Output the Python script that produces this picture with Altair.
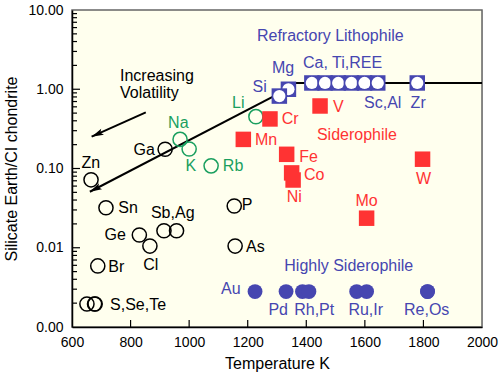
import altair as alt
import pandas as pd

# ---------------- data ----------------
vol_names = ["Zn", "Ga", "Sn", "Ge", "Cl", "Sb", "Ag", "Br", "S", "Se", "Te", "P", "As"]
vol_T = [665, 918, 716, 830, 866, 914, 957, 688, 651, 677, 679, 1154, 1157]
vol_v = [0.072, 0.175, 0.032, 0.0145, 0.0105, 0.0164, 0.0164, 0.0059, 0.00195, 0.00195, 0.00195, 0.0336, 0.0105]

mod_names = ["Na", "K", "Rb", "Li"]
mod_T = [969, 1000, 1075, 1228]
mod_v = [0.233, 0.176, 0.108, 0.451]

lith_names = ["Mg", "Si", "Ca", "Ti", "REE", "Be", "Sc", "Al", "Zr"]
lith_T = [1339, 1308, 1419, 1464, 1509, 1554, 1599, 1644, 1779]
lith_v = [1.0, 0.82, 1.2, 1.2, 1.2, 1.2, 1.2, 1.2, 1.2]

sid_names = ["Mn", "Cr", "V", "Fe", "Co", "Ni", "Mo", "W"]
sid_T = [1185, 1276, 1447, 1333, 1350, 1355, 1606, 1797]
sid_v = [0.233, 0.422, 0.615, 0.151, 0.088, 0.0716, 0.0236, 0.131]

hse_names = ["Au", "Pd", "Rh", "Pt", "Ru", "Ir", "Re", "Os"]
hse_T = [1225, 1331, 1387, 1409, 1572, 1606, 1814, 1814]
hse_v = [0.0028] * 8

trend_seg = ["a", "a", "b", "b"]
trend_T = [661, 1339, 1339, 2000]
trend_v = [0.0509, 1.02, 1.2, 1.2]

volat_T = [852, 667]
volat_v = [0.512, 0.252]

lab_text = ["Zn", "Ga", "Sn", "Ge", "Cl", "Sb,Ag", "Br", "S,Se,Te", "P", "As", "Increasing", "Volatility",
            "Na", "K", "Rb", "Li",
            "Refractory Lithophile", "Mg", "Si", "Ca, Ti,REE", "Sc,Al", "Zr",
            "Highly Siderophile", "Au", "Pd", "Rh,Pt", "Ru,Ir", "Re,Os",
            "Cr", "Mn", "V", "Siderophile", "Fe", "Co", "Ni", "W", "Mo"]
lab_T = [664, 883, 758, 784, 869, 944, 724, 730, 1180, 1194, 764, 764,
         963, 1006, 1115, 1168,
         1482, 1321, 1265, 1524, 1661, 1782,
         1545, 1176, 1304, 1427, 1603, 1811,
         1316, 1225, 1509, 1573, 1376, 1392, 1359, 1800, 1606]
lab_v = [0.1163, 0.171, 0.0315, 0.0145, 0.00606, 0.0277, 0.00567, 0.0019, 0.0346, 0.0103, 1.47, 0.905,
         0.378, 0.1085, 0.1085, 0.665,
         4.70, 1.84, 1.06, 2.125, 0.665, 0.665,
         0.00588, 0.00299, 0.00164, 0.00164, 0.00164, 0.00164,
         0.421, 0.229, 0.592, 0.265, 0.141, 0.0828, 0.0441, 0.0731, 0.0393]
lab_grp = ["vol"] * 12 + ["mod"] * 4 + ["lith"] * 6 + ["hse"] * 6 + ["sid"] * 9
lab_align = ["center", "right", "left", "right", "center", "center", "left", "left", "left", "left", "left", "left",
             "center", "center", "left", "center",
             "center", "center", "right", "center", "center", "center",
             "center", "right", "center", "center", "center", "center",
             "left", "left", "center", "center", "left", "left", "center", "center", "center"]

x_ticks = [600, 800, 1000, 1200, 1400, 1600, 1800, 2000]
y_major = [0.001, 0.01, 0.1, 1, 10]
y_minor = [k * 10 ** e for e in range(-3, 1) for k in range(2, 10)]

# ---------------- style ----------------
W, H = 410, 317
BLACK = "#000000"
GREEN = "#1a9f5f"
BLUE = "#4646b0"
RED = "#ff3333"
FONT = "Liberation Sans"
ARROW = "M0,0 L0.55,2 L0,1.6 L-0.55,2 Z"

xs = alt.Scale(domain=[600, 2000], nice=False, zero=False)
ys = alt.Scale(type="log", domain=[0.001, 10], nice=False)

def X(axis=alt.Undefined):
    return alt.X("T:Q", scale=xs, axis=axis)

def Y(axis=alt.Undefined):
    return alt.Y("v:Q", scale=ys, axis=axis)

vol_df = pd.DataFrame({"name": vol_names, "T": vol_T, "v": vol_v})
mod_df = pd.DataFrame({"name": mod_names, "T": mod_T, "v": mod_v})
sid_df = pd.DataFrame({"name": sid_names, "T": sid_T, "v": sid_v})
hse_df = pd.DataFrame({"name": hse_names, "T": hse_T, "v": hse_v})
trend_df = pd.DataFrame({"seg": trend_seg, "T": trend_T, "v": trend_v})
volat_df = pd.DataFrame({"T": volat_T, "v": volat_v})
lab_df = pd.DataFrame({"text": lab_text, "T": lab_T, "v": lab_v, "grp": lab_grp, "align": lab_align})

rows = []
for i, (n, t, v) in enumerate(zip(lith_names, lith_T, lith_v)):
    rows.append({"name": n, "T": t, "v": v, "part": "sq", "ord": 2 * i})
    rows.append({"name": n, "T": t, "v": v, "part": "ci", "ord": 2 * i + 1})
lith_df = pd.DataFrame(rows)

main_x_axis = alt.Axis(values=x_ticks, format="d", ticks=False, grid=False, labelFontSize=14, labelPadding=8,
                       labelColor=BLACK, domainColor=BLACK, domainWidth=1.5, title="Temperature K",
                       titleFontSize=16, titleFontWeight="normal", titleColor=BLACK, titlePadding=6,
                       labelFlush=False, zindex=2)
main_y_axis = alt.Axis(values=y_major, format=".2f", ticks=False, grid=False, labelFontSize=14, labelPadding=9,
                       labelColor=BLACK, domainColor=BLACK, domainWidth=1.5,
                       title="Silicate Earth/CI chondrite", titleFontSize=16, titleFontWeight="normal",
                       titleColor=BLACK, titlePadding=8, labelFlush=False, zindex=2)

# plot-area background and frame
bg = alt.Chart(pd.DataFrame({"k": [0]})).mark_rect(fill="#ffffee", stroke="#666666", strokeWidth=1.5).encode(
    x=alt.value(0), x2=alt.value(W), y=alt.value(0), y2=alt.value(H))

trend = alt.Chart(trend_df).mark_line(color=BLACK, strokeWidth=2).encode(
    x=X(main_x_axis), y=Y(main_y_axis), detail="seg:N")

tip_df = pd.DataFrame({"T": [trend_T[0]], "v": [trend_v[0]]})
trend_tip = alt.Chart(tip_df).mark_point(shape=ARROW, filled=True, color=BLACK, size=144, angle=242.5,
                                          opacity=1).encode(x=X(), y=Y())

volat = alt.Chart(volat_df).mark_line(color=BLACK, strokeWidth=2).encode(x=X(), y=Y())
volat_tip = alt.Chart(volat_df.iloc[[1]]).mark_point(shape=ARROW, filled=True, color=BLACK, size=144,
                                                      angle=245.7, opacity=1).encode(x=X(), y=Y())

# inward-pointing axis ticks
xt_df = pd.DataFrame({"T": x_ticks[1:-1]})
ymaj_df = pd.DataFrame({"v": y_major[1:-1]})
ymin_df = pd.DataFrame({"v": y_minor})
x_tick_marks = alt.Chart(xt_df).mark_rule(color=BLACK, strokeWidth=1.2).encode(
    x=X(), y=alt.value(H), y2=alt.value(H - 7))
y_major_marks = alt.Chart(ymaj_df).mark_rule(color=BLACK, strokeWidth=1.2).encode(
    y=Y(), x=alt.value(0), x2=alt.value(8))
y_minor_marks = alt.Chart(ymin_df).mark_rule(color=BLACK, strokeWidth=1.2).encode(
    y=Y(), x=alt.value(0), x2=alt.value(5))

vol_pts = alt.Chart(vol_df).mark_point(shape="circle", filled=False, color=BLACK, size=200,
                                        strokeWidth=1.5, opacity=1).encode(x=X(), y=Y())
mod_pts = alt.Chart(mod_df).mark_point(shape="circle", filled=False, color=GREEN, size=200,
                                        strokeWidth=1.5, opacity=1).encode(x=X(), y=Y())
sid_pts = alt.Chart(sid_df).mark_point(shape="square", filled=True, color=RED, size=240,
                                        opacity=1).encode(x=X(), y=Y())
hse_pts = alt.Chart(hse_df).mark_point(shape="circle", filled=True, color=BLUE, size=220,
                                        opacity=1).encode(x=X(), y=Y())
lith_pts = alt.Chart(lith_df).mark_point(filled=True, opacity=1, strokeWidth=0).encode(
    x=X(), y=Y(),
    shape=alt.condition(alt.datum.part == "sq", alt.value("square"), alt.value("circle")),
    fill=alt.condition(alt.datum.part == "sq", alt.value(BLUE), alt.value("white")),
    size=alt.condition(alt.datum.part == "sq", alt.value(240), alt.value(150)),
    order=alt.Order("ord:Q"),
)

color_scale = alt.Scale(domain=["vol", "mod", "lith", "hse", "sid"], range=[BLACK, GREEN, BLUE, BLUE, RED])

def labels(align):
    return alt.Chart(lab_df).transform_filter(alt.datum.align == align).mark_text(
        align=align, baseline="middle", fontSize=16, font=FONT).encode(
        x=X(), y=Y(), text="text:N", color=alt.Color("grp:N", scale=color_scale, legend=None))

chart = alt.layer(
    bg, trend, trend_tip, volat, volat_tip, x_tick_marks, y_major_marks, y_minor_marks,
    vol_pts, mod_pts, sid_pts, lith_pts, hse_pts,
    labels("left"), labels("center"), labels("right"),
).properties(
    width=W, height=H,
    padding={"left": 72, "top": 10, "right": 18, "bottom": 48},
    autosize=alt.AutoSizeParams(type="none"),
    background="white",
).configure_view(
    stroke=None
).configure(font=FONT)

chart.save("out.html", embed_options={"renderer": "svg", "actions": False})
